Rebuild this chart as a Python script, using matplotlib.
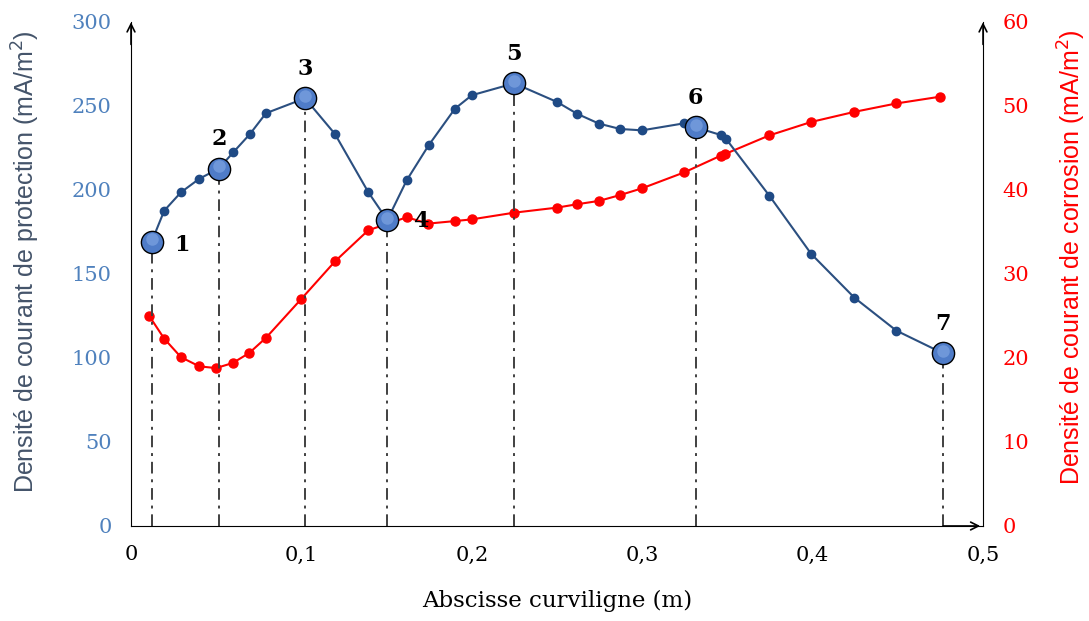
import matplotlib
matplotlib.use("Agg")
import matplotlib.pyplot as plt
from matplotlib.ticker import FuncFormatter

# Densité de courant de protection (axe gauche, mA/m2)
x_prot = [0.0121, 0.0195, 0.0293, 0.0401, 0.0515, 0.0600, 0.0698, 0.0792, 0.1021,
          0.1197, 0.1393, 0.1504, 0.1618, 0.1746, 0.1901, 0.2000, 0.2249, 0.2500,
          0.2617, 0.2746, 0.2871, 0.2999, 0.3247, 0.3314, 0.3462, 0.3492, 0.3746,
          0.3992, 0.4245, 0.4491, 0.4765]
y_prot = [169.2, 187.7, 198.6, 206.7, 212.7, 222.4, 233.3, 245.7, 254.6,
          233.3, 198.6, 182.1, 205.8, 226.5, 248.4, 256.4, 263.5, 252.4,
          245.4, 239.5, 236.3, 235.5, 239.7, 237.3, 232.7, 230.4, 196.6,
          161.9, 135.9, 116.3, 102.8]

# Densité de courant de corrosion (axe droit, mA/m2)
x_corr = [0.0107, 0.0195, 0.0293, 0.0401, 0.0499, 0.0597, 0.0694, 0.0792, 0.0998,
          0.1197, 0.1392, 0.1618, 0.1745, 0.1901, 0.1999, 0.2249, 0.2500, 0.2617,
          0.2746, 0.2871, 0.2999, 0.3247, 0.3462, 0.3488, 0.3746, 0.3992, 0.4245,
          0.4491, 0.4746]
y_corr = [25.0, 22.3, 20.1, 19.0, 18.8, 19.4, 20.6, 22.4, 27.0,
          31.5, 35.2, 36.75, 36.0, 36.3, 36.5, 37.3, 37.9, 38.3,
          38.7, 39.4, 40.2, 42.1, 44.1, 44.3, 46.5, 48.1, 49.3,
          50.3, 51.1]

# points numérotés 1..7 (indices dans x_prot)
pts_idx = [0, 4, 8, 11, 16, 23, 30]
pts_lab = ["1", "2", "3", "4", "5", "6", "7"]

blue_line = "#2b4f80"
blue_dot = "#1f4a85"
red = "#ff0000"

fig = plt.figure(figsize=(10.89, 6.21), dpi=100)
ax = fig.add_axes([0.1203, 0.153, 0.7824, 0.8116])
ax2 = ax.twinx()

ax.set_xlim(0, 0.5)
ax.set_ylim(0, 300)
ax2.set_ylim(0, 60)

# courbe rouge (corrosion)
ax2.plot(x_corr, y_corr, "-o", color=red, lw=1.5, ms=6.5, zorder=2)

# courbe bleue au-dessus
ax.set_zorder(ax2.get_zorder() + 1)
ax.patch.set_visible(False)

for i in pts_idx:
    ax.plot([x_prot[i], x_prot[i]], [0, y_prot[i]], color="#404040", lw=1.4,
            ls=(0, (6, 3, 1.5, 3)), zorder=1)

ax.plot(x_prot, y_prot, "-o", color=blue_line, mfc=blue_dot, mec=blue_dot,
        lw=1.5, ms=6, zorder=3)

px = [x_prot[i] for i in pts_idx]
py = [y_prot[i] for i in pts_idx]
ax.plot(px, py, "o", ms=16, mfc="#4f7cc8", mec="black", mew=1.0, zorder=4)
ax.plot(px, [v + 1.5 for v in py], "o", ms=9, mfc="#8aaee8", mec="none",
        alpha=0.55, zorder=5)

offsets = [(22, -2), (0, 21), (0, 21), (24, -1), (0, 21), (0, 21), (0, 21)]
for (xx, yy), lab, off in zip(zip(px, py), pts_lab, offsets):
    ax.annotate(lab, (xx, yy), xytext=off, textcoords="offset points",
                ha="center", va="center", fontsize=16, fontweight="heavy",
                family="DejaVu Serif", color="black", zorder=6)

# axes style
for a in (ax, ax2):
    a.spines["top"].set_visible(False)
ax.spines["right"].set_visible(False)
ax2.spines["left"].set_visible(False)
ax2.spines["bottom"].set_visible(False)
ax.tick_params(length=0)
ax2.tick_params(length=0)

serif = "DejaVu Serif"
ax.set_xticks([0, 0.1, 0.2, 0.3, 0.4, 0.5])
ax.xaxis.set_major_formatter(FuncFormatter(lambda v, p: ("%g" % round(v, 2)).replace(".", ",")))
ax.set_yticks(range(0, 301, 50))
ax2.set_yticks(range(0, 61, 10))
for t in ax.get_xticklabels():
    t.set_fontfamily(serif)
    t.set_fontsize(15)
for t in ax.get_yticklabels():
    t.set_fontfamily(serif)
    t.set_fontsize(15)
    t.set_color("#4f81bd")
for t in ax2.get_yticklabels():
    t.set_fontfamily(serif)
    t.set_fontsize(15)
    t.set_color(red)
ax.tick_params(axis="x", pad=14)
ax.tick_params(axis="y", pad=14)
ax2.tick_params(axis="y", pad=14)

ax.set_xlabel("Abscisse curviligne (m)", fontsize=16.5, family=serif, labelpad=18)
ax.set_ylabel("Densité de courant de protection (mA/m$^2$)", fontsize=18,
              family="Liberation Sans", color="#44546a")
ax2.set_ylabel("Densité de courant de corrosion (mA/m$^2$)", fontsize=18,
               family="Liberation Sans", color=red)
ax.yaxis.set_label_coords(-0.123, 0.524)
ax2.yaxis.set_label_coords(1.104, 0.534)
ax.yaxis.label.set_va("center")
ax2.yaxis.label.set_va("center")

# flèches des axes
arr = dict(arrowstyle="->", color="black", lw=1.2, mutation_scale=14)
ax.annotate("", xy=(0, 1.005), xytext=(0, 0.95), xycoords="axes fraction",
            arrowprops=arr, annotation_clip=False)
ax.annotate("", xy=(1, 1.005), xytext=(1, 0.95), xycoords="axes fraction",
            arrowprops=arr, annotation_clip=False)
ax.annotate("", xy=(1.0, 0), xytext=(0.95, 0), xycoords="axes fraction",
            arrowprops=arr, annotation_clip=False)

fig.savefig("out.png", dpi=100)
